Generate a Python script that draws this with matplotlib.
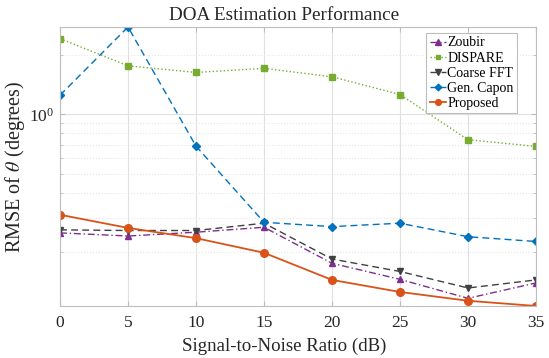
import matplotlib
matplotlib.use("Agg")
import matplotlib.pyplot as plt
from matplotlib.ticker import NullFormatter, LogLocator

plt.rcParams['font.family'] = ['Liberation Serif', 'DejaVu Serif']
plt.rcParams['mathtext.fontset'] = 'stix'

snr = [0, 5, 10, 15, 20, 25, 30, 35]
zoubir = [0.251, 0.242, 0.253, 0.268, 0.176, 0.146, 0.117, 0.140]
dispare = [2.42, 1.76, 1.63, 1.71, 1.55, 1.26, 0.744, 0.688]
coarse_fft = [0.260, 0.258, 0.258, 0.281, 0.185, 0.160, 0.132, 0.145]
gen_capon = [1.25, 2.77, 0.690, 0.284, 0.270, 0.281, 0.240, 0.227]
proposed = [0.310, 0.266, 0.236, 0.199, 0.145, 0.126, 0.1137, 0.107]
xticks = [0, 5, 10, 15, 20, 25, 30, 35]

fig = plt.figure(figsize=(5.49, 3.58), dpi=100)
ax = fig.add_axes([0.1093, 0.1453, 0.8670, 0.7793])

ax.plot(snr, zoubir, color='#7E2F8E', linestyle=(0, (5, 2, 1, 2)), marker='^', markersize=5, linewidth=1.0, label='Zoubir')
ax.plot(snr, dispare, color='#77AC30', linestyle=':', marker='s', markersize=4, linewidth=1.0, label='DISPARE')
ax.plot(snr, coarse_fft, color='#404040', linestyle=(0, (5, 3)), marker='v', markersize=5, linewidth=1.0, label='Coarse FFT')
ax.plot(snr, gen_capon, color='#0072BD', linestyle=(0, (5, 3)), marker='D', markersize=4.5, linewidth=1.0, label='Gen. Capon')
ax.plot(snr, proposed, color='#D95319', linestyle='-', marker='o', markersize=5.5, linewidth=1.3, label='Proposed')

ax.set_yscale('log')
all_vals = zoubir + dispare + coarse_fft + gen_capon + proposed
ax.set_ylim(min(all_vals), max(all_vals))
ax.set_xlim(0, 35)
ax.set_xticks(xticks)
ax.yaxis.set_major_locator(LogLocator(base=10))
ax.yaxis.set_minor_locator(LogLocator(base=10, subs=[2, 3, 4, 5, 6, 7, 8, 9]))
ax.yaxis.set_minor_formatter(NullFormatter())

ax.grid(True, which='major', color='#e0e0e0', linewidth=0.8)
ax.grid(True, which='minor', axis='y', color='#e6e6e6', linestyle=':', linewidth=0.8)
ax.set_axisbelow(True)

for s in ax.spines.values():
    s.set_color('#bdbdbd')
    s.set_linewidth(0.8)
ax.tick_params(which='both', direction='in', colors='#bdbdbd', labelcolor='#262626', labelsize=12.5)
ax.tick_params(which='both', top=True, right=True)
ax.tick_params(axis='x', pad=6.5)
ax.tick_params(axis='y', pad=4)

ax.set_title('DOA Estimation Performance', fontsize=13.8, color='#262626', pad=5, x=0.47)
ax.set_xlabel('Signal-to-Noise Ratio (dB)', fontsize=13.6, color='#262626', labelpad=5, x=0.47)
ax.set_ylabel(r'RMSE of $\theta$ (degrees)', fontsize=14.5, color='#262626', labelpad=2)

leg = ax.legend(loc='upper right', bbox_to_anchor=(517 / 549, 1 - 33 / 358),
                bbox_transform=fig.transFigure, fontsize=10, handlelength=1.15,
                handletextpad=0.1, borderpad=0.25, labelspacing=0.15, fancybox=False,
                framealpha=1, edgecolor='#bdbdbd', markerscale=0.75, borderaxespad=0)
leg.get_frame().set_linewidth(0.8)

fig.savefig('out.png', dpi=100)
